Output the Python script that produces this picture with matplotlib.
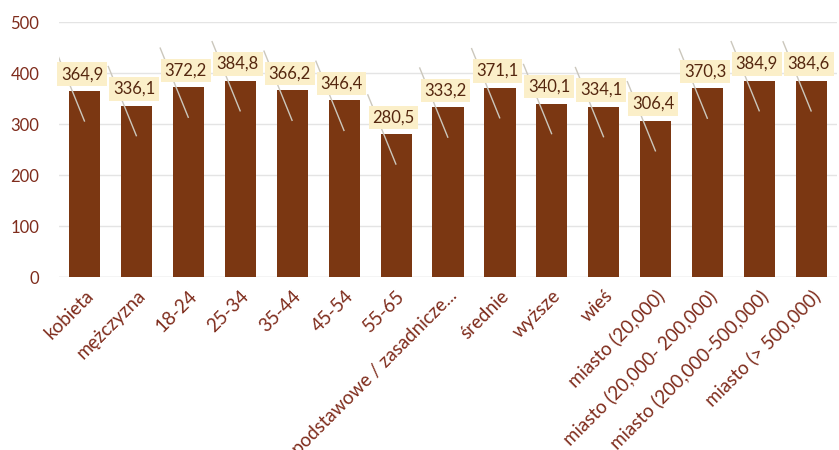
import numpy as np
import matplotlib.pyplot as plt

categories = ["kobieta", "mężczyzna", "18-24", "25-34", "35-44", "45-54", "55-65",
              "podstawowe / zasadnicze...", "średnie", "wyższe", "wieś",
              "miasto (20,000)", "miasto (20,000- 200,000)",
              "miasto (200,000-500,000)", "miasto (> 500,000)"]
values = [364.9, 336.1, 372.2, 384.8, 366.2, 346.4, 280.5,
          333.2, 371.1, 340.1, 334.1, 306.4, 370.3, 384.9, 384.6]
yticks = [0, 100, 200, 300, 400, 500]

bar_color = "#7b3712"
label_color = "#55270f"
tick_color = "#7f2c1c"
box_color = "#fbefc9"

plt.rcParams["font.family"] = ["Lato", "DejaVu Sans"]

fig = plt.figure(figsize=(8.39, 4.5), dpi=100)
ax = fig.add_axes([0.070, 0.384, 0.928, 0.567])

x = np.arange(len(categories))
ax.bar(x, values, width=0.6, color=bar_color, zorder=2)

# callout labels with leader lines
for xi, v in zip(x, values):
    ax.plot([xi - 0.55, xi], [v + 78, v - 60], color="#cbc7bc", lw=1.0,
            zorder=3, solid_capstyle="butt")
    ax.text(xi - 0.05, v + 33, f"{v:.1f}".replace(".", ","), ha="center",
            va="center", fontsize=12, color=label_color, zorder=4,
            bbox=dict(boxstyle="square,pad=0.22", fc=box_color, ec="none"))

ax.set_xlim(-0.5, len(categories) - 0.5)
ax.set_ylim(0, 500)
ax.set_yticks(yticks)
ax.set_yticklabels([str(t) for t in yticks])
ax.set_xticks(x)
ax.set_xticklabels(categories, rotation=45, ha="right", rotation_mode="anchor")
ax.tick_params(axis="both", length=0, colors=tick_color)
ax.tick_params(axis="x", pad=7, labelsize=13.5)
ax.tick_params(axis="y", pad=14, labelsize=12)

ax.grid(axis="y", color="#e4e4e4", lw=1.0, zorder=0)
for s in ax.spines.values():
    s.set_visible(False)
ax.axhline(0, color="#dddddd", lw=1.0, zorder=1)

fig.savefig("out.png", dpi=100)
